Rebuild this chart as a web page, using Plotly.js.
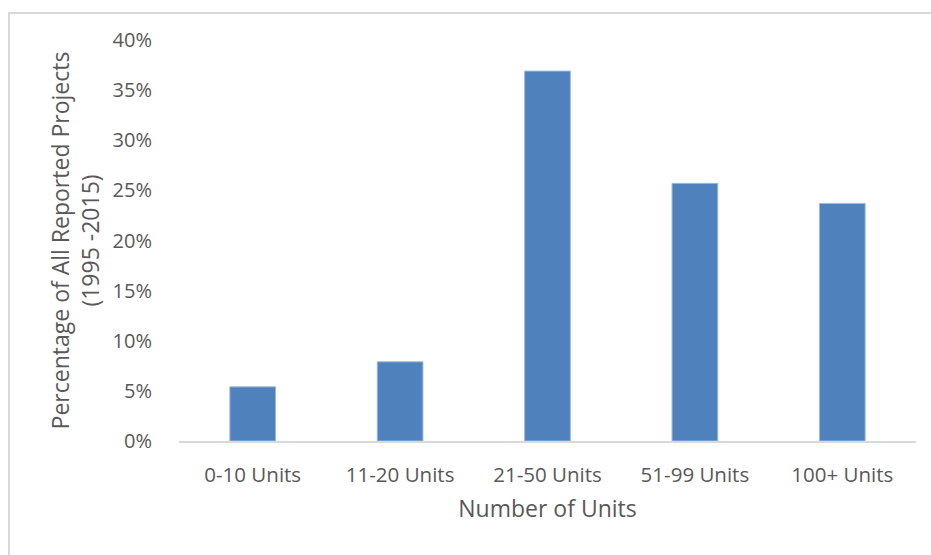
<!DOCTYPE html>
<html>
<head>
<meta charset="utf-8">
<script src="https://cdn.plot.ly/plotly-3.0.1.min.js"></script>
<style>
  html, body { margin: 0; padding: 0; background: #ffffff; }
  #chart { width: 931px; height: 555px; position: relative; }
  #frame { position: absolute; left: 8px; top: 12px; width: 940px; height: 560px;
           border-left: 2px solid #d9d9d9; border-top: 2px solid #d9d9d9;
           pointer-events: none; box-sizing: border-box; }
</style>
</head>
<body>
<div id="chart"></div>
<div id="frame"></div>
<script>
const categories = ["0-10 Units", "11-20 Units", "21-50 Units", "51-99 Units", "100+ Units"];
const shares = [0.054, 0.079, 0.369, 0.257, 0.237];
const yTickValues = [0, 0.05, 0.10, 0.15, 0.20, 0.25, 0.30, 0.35, 0.40];

const trace = {
  type: "bar",
  x: categories,
  y: shares,
  marker: { color: "#4F81BD", line: { color: "#9DB8DD", width: 1 } },
  hoverinfo: "x+y"
};

const layout = {
  width: 931,
  height: 555,
  margin: { l: 179, r: 15, t: 40, b: 114 },
  paper_bgcolor: "rgba(0,0,0,0)",
  plot_bgcolor: "#ffffff",
  font: { family: "Open Sans, sans-serif", color: "#595959", size: 20 },
  bargap: 0.69,
  showlegend: false,
  xaxis: {
    type: "category",
    showgrid: false,
    showline: true,
    linecolor: "#d9d9d9",
    linewidth: 2,
    ticks: "outside",
    ticklen: 14,
    tickcolor: "rgba(0,0,0,0)",
    tickfont: { size: 20.5, color: "#595959" },
    title: { text: "Number of Units", font: { size: 23, color: "#595959" }, standoff: 14 }
  },
  yaxis: {
    range: [0, 0.4],
    tickvals: yTickValues,
    tickformat: ".0%",
    showgrid: false,
    zeroline: false,
    showline: false,
    ticks: "outside",
    ticklen: 22,
    tickcolor: "rgba(0,0,0,0)",
    tickfont: { size: 20, color: "#595959" },
    title: { text: "Percentage of All Reported Projects<br>(1995 -2015)", font: { size: 23, color: "#595959" }, standoff: 6 }
  }
};

Plotly.newPlot("chart", [trace], layout, { displayModeBar: false, staticPlot: true });
</script>
</body>
</html>
